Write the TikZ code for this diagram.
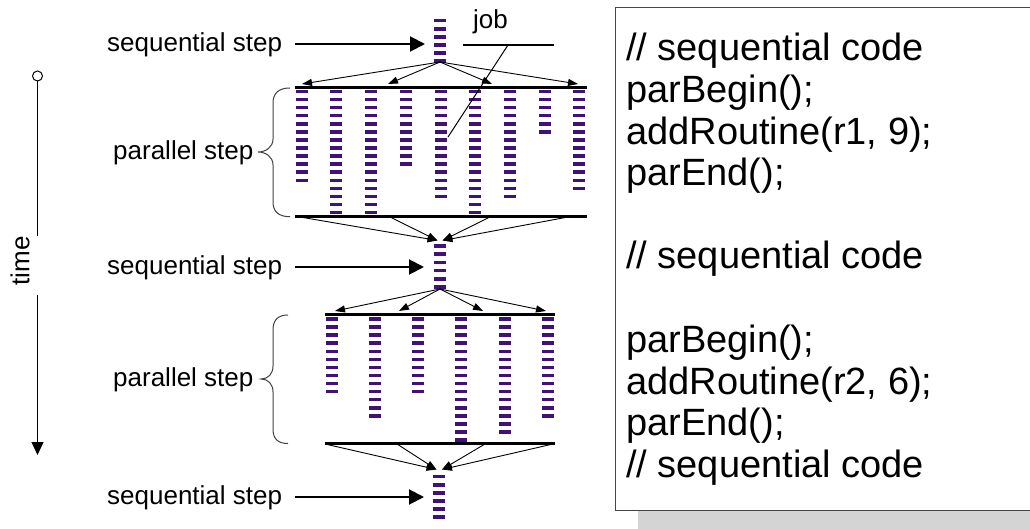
\documentclass[tikz,border=0pt]{standalone}
\usepackage{fontspec}
\setmainfont{Liberation Sans}
\usetikzlibrary{arrows.meta}
\definecolor{jobc}{RGB}{62,18,118}
\definecolor{boxc}{RGB}{70,70,70}
\definecolor{shadowc}{RGB}{212,212,212}
\tikzset{
  lbl/.style={font=\fontsize{26}{30}\selectfont, inner sep=0pt, anchor=base west},
  codeline/.style={font=\fontsize{38}{42}\selectfont, inner sep=0pt, anchor=base west},
  bar/.style={line width=3pt},
  fan/.style={line width=0.9pt, -{Triangle[length=10pt,width=7pt]}},
  seqarrow/.style={line width=2pt, -{Triangle[length=15pt,width=15pt]}},
  bracestyle/.style={line width=1pt, draw=black!75},
  thin/.style={line width=1pt},
}
\newcommand{\jobcol}[4]{% x, first y, count, spacing
  \foreach \k in {1,...,#3}{
    \fill[jobc] ({#1-6},{#2+(\k-1)*#4-1.75}) rectangle ({#1+6},{#2+(\k-1)*#4+1.75});
  }
}
\begin{document}
\begin{tikzpicture}[x=1pt,y=-1pt]
\useasboundingbox (0,0) rectangle (1030,529);

% ---------- code box ----------
\fill[shadowc] (638,510) rectangle (1030,529);
\draw[boxc, line width=1pt, fill=white] (615,8) rectangle (1040,510);
\node[codeline] (c1) at (626,61) {// sequential code};
\node[codeline] (c2) at (626,102.6) {parBegin();};
\node[codeline] (c3) at (626,144.1) {addRoutine(r1, 9);};
\node[codeline] (c4) at (626,185.7) {parEnd();};
\node[codeline] (c5) at (626,268.8) {// sequential code};
\node[codeline] (c6) at (626,352.4) {parBegin();};
\node[codeline] (c7) at (626,394) {addRoutine(r2, 6);};
\node[codeline] (c8) at (626,435.6) {parEnd();};
\node[codeline] (c9) at (626,477.2) {// sequential code};

% ---------- time axis ----------
\node[circle, draw, thin, fill=white, minimum size=10pt, inner sep=0pt] (t0) at (37.5,76) {};
\coordinate (t1) at (37.5,236);
\coordinate (t2) at (37.5,295);
\coordinate (t3) at (37.5,455);
\draw[thin] (t0) -- (t1);
\draw[thin, -{Triangle[length=13pt,width=12pt]}] (t2) -- (t3);
\node[font=\fontsize{26}{30}\selectfont, inner sep=0pt, rotate=90] (time) at (20,261) {time};

% ---------- labels ----------
\node[lbl] (s1) at (107,51.5) {sequential step};
\node[lbl] (s2) at (107,274.5) {sequential step};
\node[lbl] (s3) at (107,504.5) {sequential step};
\node[lbl] (p1) at (113,159.5) {parallel step};
\node[lbl] (p2) at (113,386.5) {parallel step};
\node[lbl] (job) at (473,28.5) {job};

% ---------- horizontal arrows to sequential steps ----------
\coordinate (h1a) at (295,44);  \coordinate (h1b) at (425,44);
\coordinate (h2a) at (295,267); \coordinate (h2b) at (424,267);
\coordinate (h3a) at (295,497); \coordinate (h3b) at (424,497);
\draw[seqarrow] (h1a) -- (h1b);
\draw[seqarrow] (h2a) -- (h2b);
\draw[seqarrow] (h3a) -- (h3b);

% ---------- sequential step columns ----------
\jobcol{440}{20.7}{6}{8.06}
\jobcol{440}{246}{6}{8.2}
\jobcol{438.5}{476.7}{6}{8.06}

% ---------- parallel step 1 ----------
\coordinate (b1l) at (295,88);    \coordinate (b1r) at (586.5,88);
\coordinate (b2l) at (295,216.7); \coordinate (b2r) at (586.5,216.7);
\draw[bar] (b1l) -- (b1r);
\draw[bar] (b2l) -- (b2r);
\foreach \x/\n in {301.7/12, 336.4/16, 371.1/16, 405.8/10, 440.5/14, 475.2/16, 509.9/14, 544.6/6, 579.3/13}{
  \jobcol{\x}{91.5}{\n}{8.07}
}
\coordinate (f1s) at (440,62);
\coordinate (f1a) at (302,84); \coordinate (f1b) at (388,84);
\coordinate (f1c) at (492,84); \coordinate (f1d) at (578,84);
\draw[fan] (f1s) -- (f1a);
\draw[fan] (f1s) -- (f1b);
\draw[fan] (f1s) -- (f1c);
\draw[fan] (f1s) -- (f1d);
\coordinate (g1a) at (300,217); \coordinate (g1b) at (390,217);
\coordinate (g1c) at (490,217); \coordinate (g1d) at (568,217);
\coordinate (g1l) at (437.5,240.5); \coordinate (g1r) at (442.5,240.5);
\draw[fan] (g1a) -- (g1l);
\draw[fan] (g1b) -- (g1l);
\draw[fan] (g1c) -- (g1r);
\draw[fan] (g1d) -- (g1r);

% job leader
\coordinate (jl1) at (463,45); \coordinate (jl2) at (554,45);
\coordinate (jl3) at (508,45); \coordinate (jl4) at (448,137);
\draw[line width=1.3pt] (jl1) -- (jl2);
\draw[thin] (jl3) -- (jl4);

% ---------- parallel step 2 ----------
\coordinate (b3l) at (325,314.3); \coordinate (b3r) at (555,314.3);
\coordinate (b4l) at (325,443.5); \coordinate (b4r) at (555,443.5);
\draw[bar] (b3l) -- (b3r);
\draw[bar] (b4l) -- (b4r);
\foreach \x/\n in {331.7/10, 374.9/13, 418.1/10, 461.3/16, 504.5/15, 547.7/13}{
  \jobcol{\x}{319}{\n}{8.07}
}
\coordinate (f2s) at (440,289);
\coordinate (f2a) at (335,311); \coordinate (f2b) at (399,311);
\coordinate (f2c) at (483,311); \coordinate (f2d) at (546,311);
\draw[fan] (f2s) -- (f2a);
\draw[fan] (f2s) -- (f2b);
\draw[fan] (f2s) -- (f2c);
\draw[fan] (f2s) -- (f2d);
\coordinate (g2a) at (325,444); \coordinate (g2b) at (397,444);
\coordinate (g2c) at (485,444); \coordinate (g2d) at (553,444);
\coordinate (g2l) at (436.5,469.5); \coordinate (g2r) at (442,469.5);
\draw[fan] (g2a) -- (g2l);
\draw[fan] (g2b) -- (g2l);
\draw[fan] (g2c) -- (g2r);
\draw[fan] (g2d) -- (g2r);

% ---------- braces ----------
\draw[bracestyle] (290,88) .. controls (279,88) and (273,93) .. (273,103)
  -- (273,139) .. controls (273,147) and (266,152) .. (258,152)
  .. controls (266,152) and (273,157) .. (273,165)
  -- (273,202) .. controls (273,212) and (279,216.7) .. (290,216.7);
\draw[bracestyle] (288,315) .. controls (278,315) and (273,320) .. (273,330)
  -- (273,366) .. controls (273,374) and (268,379) .. (261,379)
  .. controls (268,379) and (273,384) .. (273,392)
  -- (273,429) .. controls (273,439) and (278,443.5) .. (288,443.5);
\end{tikzpicture}
\end{document}
